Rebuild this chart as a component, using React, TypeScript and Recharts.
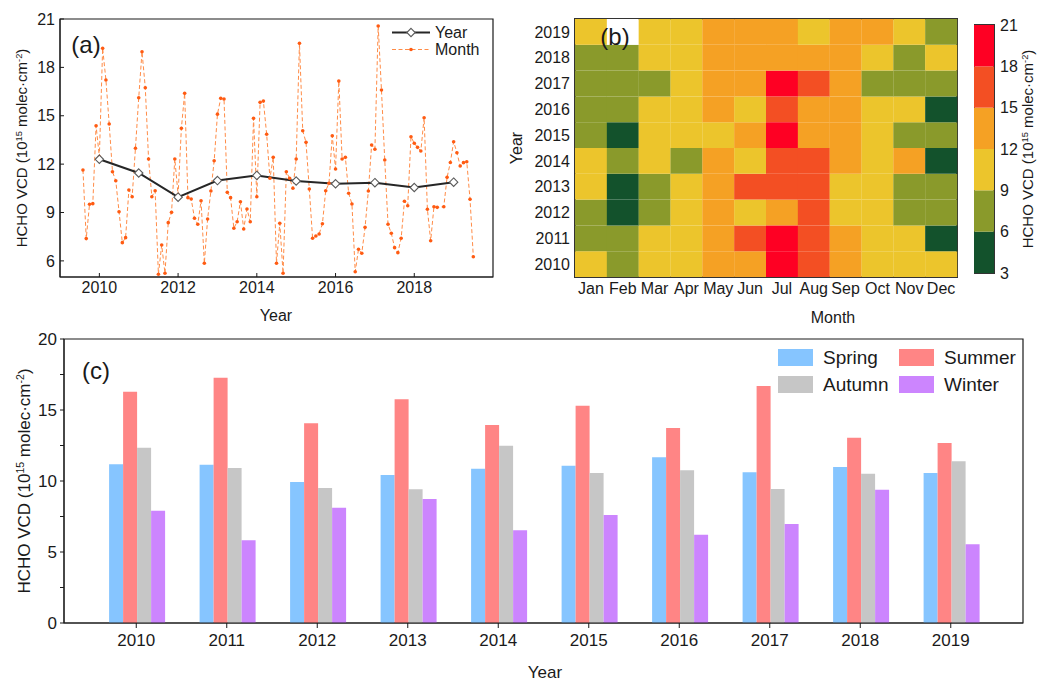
import { LineChart, Line, BarChart, Bar, Cell, XAxis, YAxis, ReferenceArea } from 'recharts'
import type { ReactNode } from 'react'

const FONT = '"Liberation Sans", Arial, Helvetica, sans-serif'
const INK = '#1a1a1a'

const years = [2010, 2011, 2012, 2013, 2014, 2015, 2016, 2017, 2018, 2019]
const monthNames = ['Jan', 'Feb', 'Mar', 'Apr', 'May', 'Jun', 'Jul', 'Aug', 'Sep', 'Oct', 'Nov', 'Dec']

// monthly mean HCHO VCD (10^15 molec/cm2), Jan..Dec; Feb 2019 has no retrieval
const vcd2010 = [11.64, 7.38, 9.51, 9.55, 14.38, 12.46, 19.18, 17.22, 14.49, 11.53, 10.97, 9.05]
const vcd2011 = [7.13, 7.44, 10.4, 9.98, 12.98, 16.12, 18.97, 16.74, 12.32, 9.98, 10.35, 5.17]
const vcd2012 = [6.98, 5.23, 8.37, 9.01, 12.32, 10.1, 14.22, 16.39, 9.92, 9.84, 8.64, 8.27]
const vcd2013 = [9.73, 5.85, 8.6, 10.33, 12.21, 15.1, 16.08, 16.04, 10.25, 9.92, 8.02, 8.43]
const vcd2014 = [9.67, 7.98, 9.22, 8.43, 14.84, 9.98, 15.83, 15.91, 13.85, 11.12, 12.42, 5.85]
const vcd2015 = [8.33, 5.23, 11.53, 11.12, 10.5, 12.32, 19.49, 14.07, 13.35, 10.46, 7.4, 7.54]
const vcd2016 = [7.67, 8.3, 10.35, 10.81, 13.76, 11.7, 17.15, 12.32, 12.42, 10.19, 9.53, 5.33]
const vcd2017 = [6.72, 6.47, 8.08, 10.33, 13.19, 12.92, 20.57, 16.6, 12.26, 8.27, 7.71, 6.82]
const vcd2018 = [6.51, 7.4, 9.7, 9.42, 13.7, 13.29, 13.04, 12.81, 14.88, 9.2, 7.25, 9.36]
const vcd2019 = [9.32, null, 9.36, 11.18, 12.1, 13.39, 12.71, 11.88, 12.09, 12.15, 9.82, 6.26]
const monthlyByYear: (number | null)[][] = [
  vcd2010, vcd2011, vcd2012, vcd2013, vcd2014, vcd2015, vcd2016, vcd2017, vcd2018, vcd2019,
]

const annualVcd = [12.3, 11.45, 9.95, 10.98, 11.3, 10.95, 10.78, 10.85, 10.55, 10.88]

const springVcd = [11.18, 11.15, 9.93, 10.42, 10.87, 11.08, 11.67, 10.61, 10.99, 10.56]
const summerVcd = [16.29, 17.27, 14.06, 15.75, 13.94, 15.3, 13.73, 16.69, 13.05, 12.68]
const autumnVcd = [12.35, 10.92, 9.51, 9.42, 12.49, 10.56, 10.75, 9.44, 10.51, 11.39]
const winterVcd = [7.91, 5.82, 8.12, 8.73, 6.53, 7.6, 6.22, 6.97, 9.39, 5.54]

// colour classes of the monthly map
const binEdges = [3, 6, 9, 12, 15, 18, 21]
const binColors = ['#13522c', '#8a9a2b', '#ecc52c', '#f5a124', '#f34f23', '#fe0023']

const seasons = [
  { key: 'spring', name: 'Spring', color: '#86c5ff' },
  { key: 'summer', name: 'Summer', color: '#ff8585' },
  { key: 'autumn', name: 'Autumn', color: '#c6c6c6' },
  { key: 'winter', name: 'Winter', color: '#cc85fe' },
]

// month points sit at year + (month - 6)/12, i.e. June on the year tick
const monthSeries = years.flatMap((y, yi) =>
  monthlyByYear[yi].map((v, mi) => ({ t: y + (mi - 5) / 12, v })),
)
const yearSeries = years.map((y, i) => ({ t: y, v: annualVcd[i] }))

const heatRows = monthNames.map((m) => {
  const row: Record<string, string | number> = { month: m }
  years.forEach((y) => { row['c' + y] = 1 })
  return row
})

const cbRow = [
  Object.fromEntries(binColors.map((_, i) => ['b' + i, [binEdges[i], binEdges[i + 1]]])),
]

const seasonRows = years.map((y, i) => ({
  year: String(y),
  spring: springVcd[i],
  summer: summerVcd[i],
  autumn: autumnVcd[i],
  winter: winterVcd[i],
}))

function binColor(v: number | null) {
  if (v == null) return '#ffffff'
  for (let k = 0; k < binColors.length; k++) {
    if (v < binEdges[k + 1]) return binColors[k]
  }
  return binColors[binColors.length - 1]
}

// eslint-disable-next-line @typescript-eslint/no-explicit-any
function Diamond(p: any) {
  const { cx, cy, index } = p
  if (cx == null || cy == null) return <g key={index} />
  const s = 4.2
  return (
    <path
      key={index}
      d={`M${cx},${cy - s}L${cx + s},${cy}L${cx},${cy + s}L${cx - s},${cy}Z`}
      fill="#ffffff"
      stroke="#5a5a5a"
      strokeWidth={1.1}
    />
  )
}

function Title({ x, y, size, rotate, children }: {
  x: number; y: number; size: number; rotate?: boolean; children: ReactNode
}) {
  return (
    <div
      style={{
        position: 'absolute', left: x, top: y, fontSize: size, lineHeight: 1,
        whiteSpace: 'nowrap', transform: `translate(-50%, -50%)${rotate ? ' rotate(-90deg)' : ''}`,
      }}
    >
      {children}
    </div>
  )
}

const sup = { fontSize: '0.62em', verticalAlign: '0.5em', lineHeight: 0 }
const vcdLabel = (
  <>HCHO VCD (10<span style={sup}>15</span> molec·cm<span style={sup}>-2</span>)</>
)

const tickA = { fill: INK, fontSize: 16, fontFamily: FONT }
const tickC = { fill: INK, fontSize: 17, fontFamily: FONT }

export default function App() {
  return (
    <div
      style={{
        position: 'absolute', left: 0, top: 0, width: 1039, height: 680,
        background: '#fff', fontFamily: FONT, color: INK, overflow: 'hidden',
      }}
    >
      {/* (a) monthly and annual series */}
      <div style={{ position: 'absolute', left: 0, top: 0 }}>
        <LineChart width={520} height={330} margin={{ top: 19, right: 27, bottom: 23, left: 0 }}>
          <XAxis
            type="number" dataKey="t" domain={[2009, 2020]} allowDataOverflow
            ticks={[2010, 2012, 2014, 2016, 2018]} tick={tickA}
            tickSize={-4} tickMargin={9} height={30}
            axisLine={{ stroke: INK }} tickLine={{ stroke: INK }}
          />
          <YAxis
            type="number" dataKey="v" domain={[5, 21]} allowDataOverflow
            ticks={[6, 9, 12, 15, 18, 21]} tick={tickA}
            tickSize={-4} tickMargin={9} width={60}
            axisLine={{ stroke: INK }} tickLine={{ stroke: INK }}
          />
          <Line
            data={monthSeries} dataKey="v" name="Month" connectNulls
            stroke="#ff8c47" strokeWidth={1} strokeDasharray="4 2.5"
            dot={{ r: 1.8, fill: '#ff5b12', stroke: '#ff5b12', strokeWidth: 0 }}
            activeDot={false} isAnimationActive={false}
          />
          <Line
            data={yearSeries} dataKey="v" name="Year"
            stroke="#262626" strokeWidth={2} dot={Diamond}
            activeDot={false} isAnimationActive={false}
          />
          <ReferenceArea
            x1={2009} x2={2020} y1={5} y2={21} fill="none"
            stroke={INK} strokeWidth={1.2} ifOverflow="visible"
          />
        </LineChart>
      </div>
      <Title x={86} y={45} size={24}>(a)</Title>
      <Title x={21} y={148} size={15} rotate>{vcdLabel}</Title>
      <Title x={276} y={316} size={16}>Year</Title>
      <div style={{ position: 'absolute', left: 390, top: 24, fontSize: 16, lineHeight: '17px' }}>
        <div style={{ display: 'flex', alignItems: 'center' }}>
          <svg width={42} height={17}>
            <line x1={2} x2={40} y1={8.5} y2={8.5} stroke="#262626" strokeWidth={2} />
            <path d="M21,4.3L25.2,8.5L21,12.7L16.8,8.5Z" fill="#fff" stroke="#5a5a5a" strokeWidth={1.1} />
          </svg>
          <span style={{ marginLeft: 3 }}>Year</span>
        </div>
        <div style={{ display: 'flex', alignItems: 'center' }}>
          <svg width={42} height={17}>
            <line x1={2} x2={40} y1={8.5} y2={8.5} stroke="#ff8c47" strokeWidth={1} strokeDasharray="4 2.5" />
            <circle cx={21} cy={8.5} r={1.8} fill="#ff5b12" />
          </svg>
          <span style={{ marginLeft: 3 }}>Month</span>
        </div>
      </div>

      {/* (b) month x year map */}
      <div style={{ position: 'absolute', left: 500, top: 0 }}>
        <BarChart
          width={460} height={330} data={heatRows}
          margin={{ top: 19, right: 3, bottom: 23, left: 0 }}
          barCategoryGap={0} barGap={0}
        >
          <XAxis
            dataKey="month" interval={0} tick={tickA} tickLine={false} axisLine={false}
            tickSize={0} tickMargin={6} height={30}
          />
          <YAxis
            type="number" domain={[0, 10]} allowDataOverflow
            ticks={years.map((_, i) => i + 0.5)}
            tickFormatter={(v: number) => String(years[Math.floor(v)])}
            tick={tickA} tickLine={false} axisLine={false}
            tickSize={0} tickMargin={5} width={75}
          />
          {years.map((y, yi) => (
            <Bar key={y} dataKey={'c' + y} stackId="map" isAnimationActive={false}>
              {monthNames.map((m, mi) => (
                <Cell key={m} fill={binColor(monthlyByYear[yi][mi])} />
              ))}
            </Bar>
          ))}
          <ReferenceArea y1={0} y2={10} fill="none" stroke="#333" strokeWidth={2} ifOverflow="visible" />
        </BarChart>
      </div>
      <Title x={615} y={37} size={24}>(b)</Title>
      <Title x={517} y={148} size={16} rotate>Year</Title>
      <Title x={833} y={318} size={16}>Month</Title>

      {/* colour bar */}
      <div style={{ position: 'absolute', left: 974, top: 0 }}>
        <BarChart
          width={65} height={300} data={cbRow}
          margin={{ top: 25, right: 0, bottom: 27, left: 0 }} barCategoryGap={0}
        >
          {binColors.map((_, i) => <XAxis key={i} xAxisId={i} hide />)}
          <YAxis
            orientation="right" type="number" domain={[3, 21]} allowDataOverflow
            ticks={binEdges} tick={tickA} tickLine={false} axisLine={false}
            tickSize={0} tickMargin={6} width={45}
          />
          {binColors.map((c, i) => (
            <Bar key={i} xAxisId={i} dataKey={'b' + i} fill={c} isAnimationActive={false} />
          ))}
          <ReferenceArea xAxisId={0} y1={3} y2={21} fill="none" stroke="#333" strokeWidth={2} ifOverflow="visible" />
        </BarChart>
      </div>
      <Title x={1027} y={149} size={15} rotate>{vcdLabel}</Title>

      {/* (c) seasonal means */}
      <div style={{ position: 'absolute', left: 0, top: 320 }}>
        <BarChart
          width={1039} height={360} data={seasonRows}
          margin={{ top: 19, right: 16, bottom: 27, left: 0 }}
          barCategoryGap="20%" barGap={0}
        >
          <XAxis
            dataKey="year" padding={{ left: 27, right: 27 }} interval={0} tick={tickC}
            tickSize={5} tickMargin={6} height={30}
            axisLine={{ stroke: INK }} tickLine={{ stroke: INK }}
          />
          {/* unpadded copy of the year axis, so the frame covers the whole plot */}
          <XAxis xAxisId="frame" dataKey="year" hide />
          <YAxis
            type="number" domain={[0, 20]} allowDataOverflow
            ticks={[0, 2.5, 5, 7.5, 10, 12.5, 15, 17.5, 20]}
            tickFormatter={(v: number) => (Number.isInteger(v) ? String(v) : '')}
            tick={tickC} tickSize={4} tickMargin={3} width={64}
            axisLine={{ stroke: INK }} tickLine={{ stroke: INK }}
          />
          {seasons.map((s) => (
            <Bar key={s.key} dataKey={s.key} name={s.name} fill={s.color} isAnimationActive={false} />
          ))}
          <ReferenceArea
            xAxisId="frame" y1={0} y2={20} fill="none"
            stroke={INK} strokeWidth={1.2} ifOverflow="visible"
          />
        </BarChart>
      </div>
      <Title x={96} y={371} size={24}>(c)</Title>
      <Title x={24} y={481} size={17} rotate>{vcdLabel}</Title>
      <Title x={545} y={672} size={17}>Year</Title>
      <div
        style={{
          position: 'absolute', left: 778, top: 349, display: 'grid',
          gridTemplateColumns: '121px 130px', rowGap: 10, fontSize: 19, lineHeight: '17px',
        }}
      >
        {seasons.map((s) => (
          <div key={s.key} style={{ display: 'flex', alignItems: 'center' }}>
            <span style={{ width: 35, height: 17, background: s.color, display: 'inline-block' }} />
            <span style={{ marginLeft: 10 }}>{s.name}</span>
          </div>
        ))}
      </div>
    </div>
  )
}
